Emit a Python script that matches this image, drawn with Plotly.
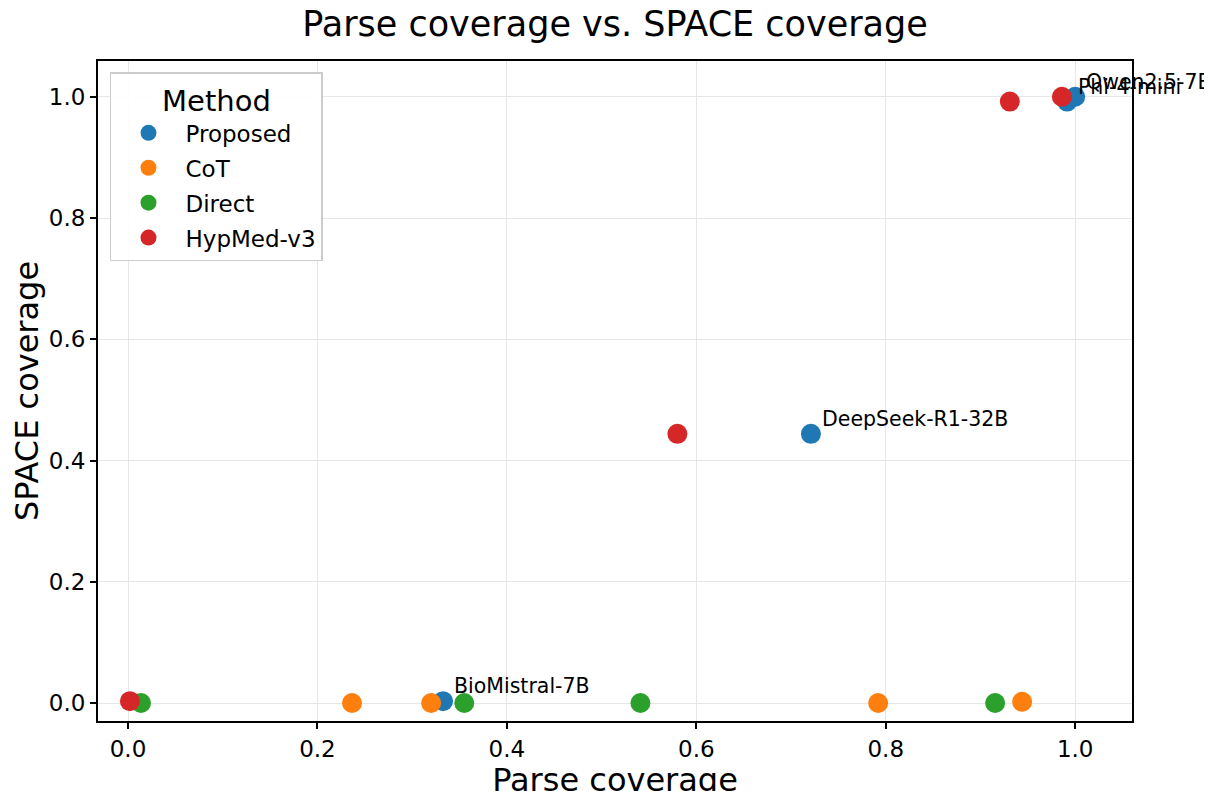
import plotly.graph_objects as go

methods = ["Proposed", "CoT", "Direct", "HypMed-v3"]
colors = ["#1f77b4", "#ff7f0e", "#2ca02c", "#d62728"]

proposed_parse = [1.0, 0.9915, 0.721, 0.3326]
proposed_space = [1.0, 0.992, 0.444, 0.003]
proposed_models = ["Qwen2.5-7B", "Phi-4-mini", "DeepSeek-R1-32B", "BioMistral-7B"]

cot_parse = [0.2365, 0.320, 0.792, 0.944]
cot_space = [0.0, 0.0, 0.0, 0.002]

direct_parse = [0.0137, 0.355, 0.541, 0.9155]
direct_space = [0.0, 0.0, 0.0, 0.0]

hyp_parse = [0.002, 0.580, 0.931, 0.986]
hyp_space = [0.003, 0.444, 0.992, 1.0]

series = [
    (proposed_parse, proposed_space),
    (cot_parse, cot_space),
    (direct_parse, direct_space),
    (hyp_parse, hyp_space),
]

FONT = "DejaVu Sans"

fig = go.Figure()
for name, col, (xs, ys) in zip(methods, colors, series):
    fig.add_trace(go.Scatter(
        x=xs, y=ys, mode="markers", name=name, legendgroup=name,
        marker=dict(color=col, size=20, line=dict(width=0)),
    ))

for x, y, label in zip(proposed_parse, proposed_space, proposed_models):
    fig.add_annotation(
        x=x, y=y, xref="x", yref="y", text=label, showarrow=False,
        xanchor="left", yanchor="bottom", xshift=9, yshift=1,
        font=dict(family=FONT, size=20.5, color="black"),
    )

fig.update_layout(
    width=1212, height=791,
    paper_bgcolor="white", plot_bgcolor="white",
    margin=dict(l=90, r=88, t=53, b=78, autoexpand=False),
    font=dict(family=FONT, color="black"),
    title=dict(text="Parse coverage vs. SPACE coverage", x=0.5, xanchor="center",
               xref="paper", y=0.980, yanchor="middle",
               font=dict(family=FONT, size=35, color="black")),
    legend=dict(
        title=dict(text="Method", font=dict(family=FONT, size=29, color="black"), side="top center"),
        font=dict(family=FONT, size=23, color="black"),
        x=0.0116, y=0.983, xanchor="left", yanchor="top",
        bgcolor="rgba(255,255,255,0.9)", bordercolor="#cccccc", borderwidth=1.5,
        itemsizing="trace", itemwidth=64, tracegroupgap=2,
    ),
    xaxis=dict(
        range=[-0.0317, 1.060], tickvals=[0, 0.2, 0.4, 0.6, 0.8, 1.0], tickformat=".1f",
        showgrid=True, gridcolor="#e6e6e6", gridwidth=1, zeroline=False,
        showline=True, linecolor="black", linewidth=2, mirror=True,
        ticks="outside", ticklen=6, tickwidth=1.5, tickcolor="black",
        tickfont=dict(family=FONT, size=23, color="black"), automargin=False,
        title=dict(text="Parse coverage", font=dict(family=FONT, size=32, color="black"), standoff=1),
    ),
    yaxis=dict(
        range=[-0.0297, 1.059], tickvals=[0, 0.2, 0.4, 0.6, 0.8, 1.0], tickformat=".1f",
        showgrid=True, gridcolor="#e6e6e6", gridwidth=1, zeroline=False,
        showline=True, linecolor="black", linewidth=2, mirror=True,
        ticks="outside", ticklen=6, tickwidth=1.5, tickcolor="black",
        tickfont=dict(family=FONT, size=23, color="black"), automargin=False,
        title=dict(text="SPACE coverage", font=dict(family=FONT, size=32, color="black"), standoff=20),
    ),
)

fig.write_html("out.html")
